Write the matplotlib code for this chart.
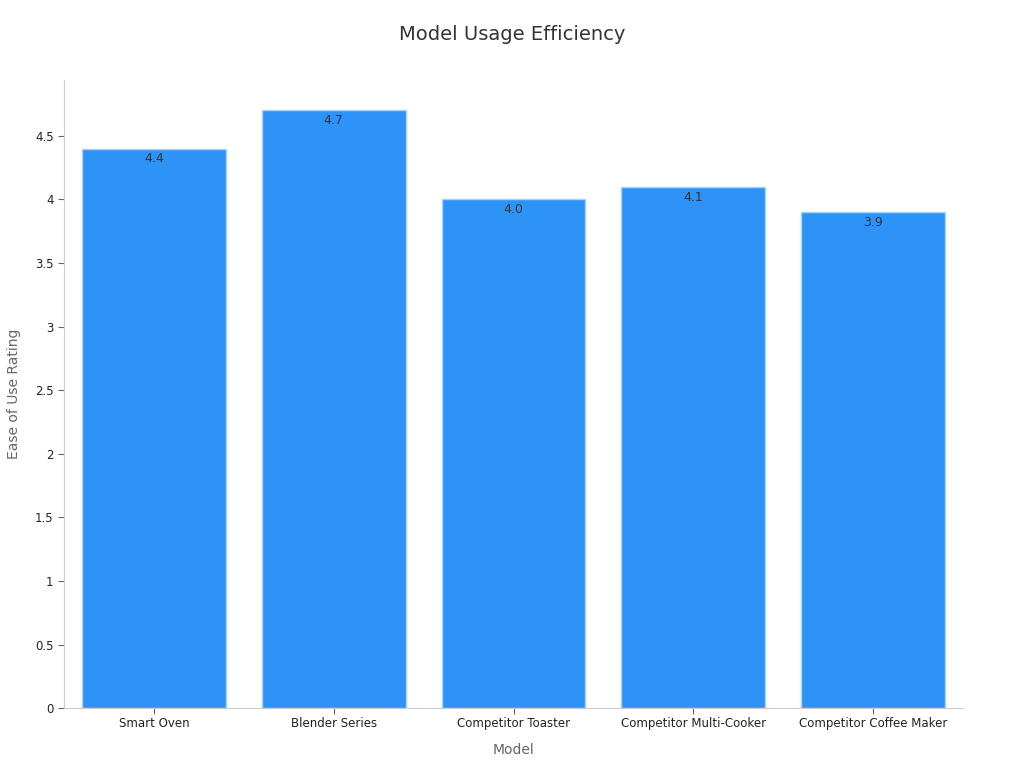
import numpy as np
import matplotlib.pyplot as plt

models = ['Smart Oven', 'Blender Series', 'Competitor Toaster',
          'Competitor Multi-Cooker', 'Competitor Coffee Maker']
ratings = [4.4, 4.7, 4.0, 4.1, 3.9]
yticks = [0, 0.5, 1, 1.5, 2, 2.5, 3, 3.5, 4, 4.5]
ytick_labels = ['0', '0.5', '1', '1.5', '2', '2.5', '3', '3.5', '4', '4.5']

fig = plt.figure(figsize=(10.24, 7.68), dpi=100)
ax = fig.add_axes([0.0625, 0.078, 0.878, 0.818])

x = np.arange(len(models))
ax.bar(x, ratings, width=0.8, color='#2e93f7', edgecolor='#a8d2ff', linewidth=1)

# value labels just inside the top of each bar
for xi, v in zip(x, ratings):
    ax.text(xi, v - 0.03, f'{v:.1f}', ha='center', va='top', fontsize=9, color='#333333')

ax.set_xlim(-0.5, 4.5)
ax.set_ylim(0, 4.94)
ax.set_xticks(x)
ax.set_xticklabels(models, fontsize=8.5, color='#222222')
ax.set_yticks(yticks)
ax.set_yticklabels(ytick_labels, fontsize=8.5, color='#222222')

ax.set_xlabel('Model', fontsize=10, color='#666666', labelpad=9)
ax.set_ylabel('Ease of Use Rating', fontsize=10, color='#666666', labelpad=10)
fig.suptitle('Model Usage Efficiency', fontsize=14, color='#333333', y=0.968)

for s in ['top', 'right']:
    ax.spines[s].set_visible(False)
for s in ['left', 'bottom']:
    ax.spines[s].set_color('#cccccc')
ax.tick_params(axis='both', color='#666666', length=4)
ax.tick_params(axis='x', pad=2.5)

fig.savefig('out.png', dpi=100)
